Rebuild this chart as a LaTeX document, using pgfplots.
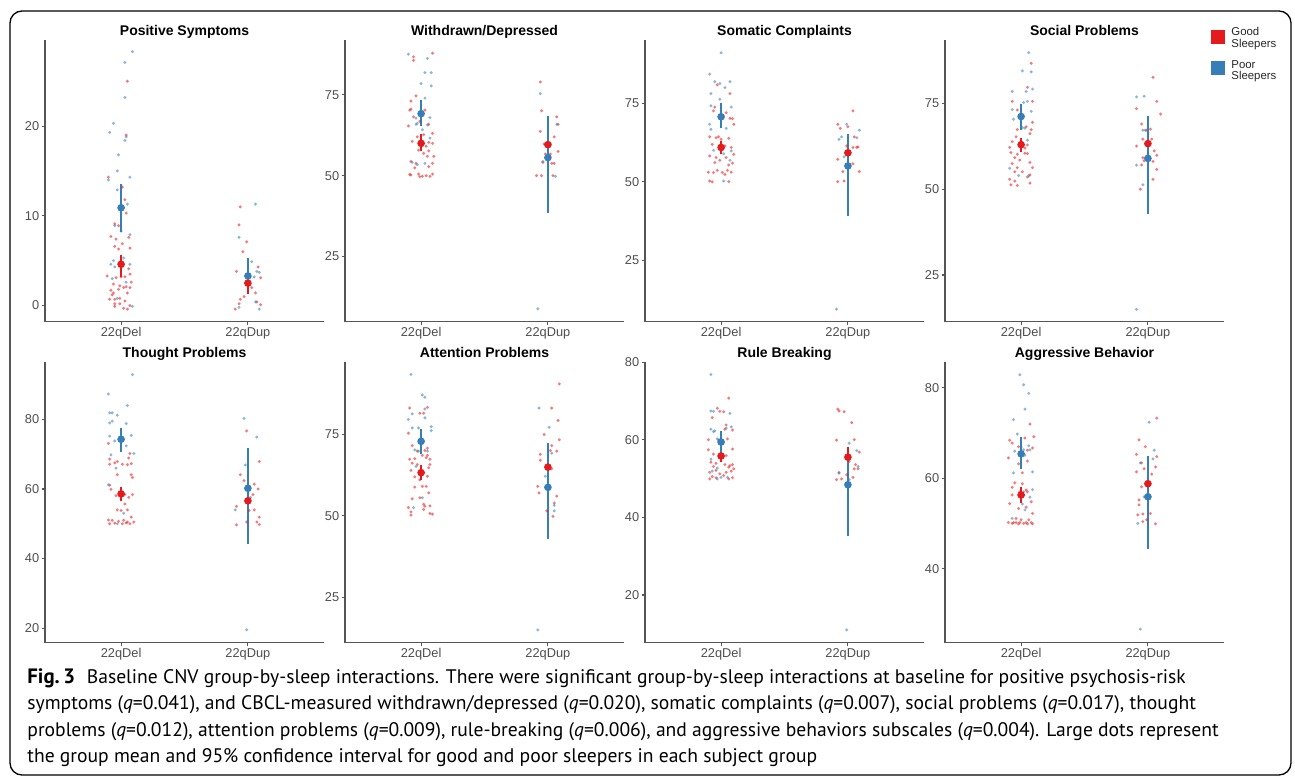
\documentclass[border=0pt]{standalone}
\usepackage{pgfplots}
\pgfplotsset{compat=1.18}
\usepackage{fontspec}
\setmainfont{Liberation Sans}
\newfontfamily\capfont{PT Sans}
\definecolor{gred}{HTML}{E41A1C}
\definecolor{pblue}{HTML}{377EB8}
\definecolor{axgray}{HTML}{555555}
\definecolor{ticktext}{HTML}{4D4D4D}
\pgfplotsset{
  panel/.style={
    scale only axis, width=139.5pt,
    anchor=south west,
    axis x line*=bottom, axis y line*=left,
    xmin=-0.6, xmax=1.6,
    xtick={0,1}, xticklabels={22qDel,22qDup},
    tick align=outside, major tick length=1.7pt,
    tick style={axgray, line width=0.55pt},
    axis line style={axgray, line width=0.7pt},
    /pgf/number format/assume math mode=true,
    ticklabel style={font=\fontsize{6.4}{7}\selectfont, text=ticktext},
    yticklabel style={inner sep=1pt},
    xticklabel style={inner sep=0.8pt},
    every axis title/.style={at={(0.5,1)}, anchor=base, yshift=2pt, inner sep=0pt, font=\bfseries\fontsize{7}{8}\selectfont},
    clip=false,
  },
  scat/.style={only marks, mark=*, mark size=0.6pt, color=#1, opacity=0.4},
  ci/.style={#1, line width=1pt},
  mn/.style={only marks, mark=*, mark size=1.7pt, color=#1},
}
\begin{document}
\begin{tikzpicture}
\useasboundingbox (0,0) rectangle (647.5pt,388pt);
\draw[black, line width=0.65pt, rounded corners=6pt] (5pt,0.5pt) rectangle (645.5pt,382.5pt);

% ---------------- Positive Symptoms
\begin{axis}[panel, at={(22.5pt,227.15pt)}, height=140.85pt, ymin=-1.8, ymax=29.6, ytick={0,10,20}, title={Positive Symptoms}]
\addplot[scat=gred] table[row sep=\\]{x y\\
-0.10 14.3\\ 0.01 13.2\\ 0.03 11.8\\ 0.04 10.3\\ -0.02 8.9\\ -0.05 9.1\\ -0.08 7.7\\ -0.04 7.4\\ 0.06 7.6\\ 0.01 6.9\\ -0.05 6.6\\ -0.02 6.3\\ 0.07 6.4\\ -0.11 3.3\\ -0.04 3.1\\ 0.00 3.2\\ 0.03 3.2\\ 0.07 3.5\\ 0.06 4.1\\ -0.06 2.4\\ -0.01 2.2\\ 0.04 2.1\\ 0.08 2.6\\ -0.08 1.7\\ -0.02 1.8\\ 0.02 2.0\\ 0.07 2.0\\ -0.06 1.4\\ 0.05 1.4\\ -0.09 0.7\\ -0.05 0.7\\ -0.01 0.8\\ 0.03 0.5\\ -0.05 0.2\\ -0.01 0.2\\ 0.07 0.0\\ 0.02 -0.3\\ 0.05 -0.4\\ -0.05 -0.1\\ -0.07 1.2\\ 0.05 25.0\\ 0.04 19.0\\
0.94 11.0\\ 0.93 9.0\\ 0.99 7.1\\ 0.96 6.0\\ 0.91 3.8\\ 1.08 4.3\\ 1.10 3.1\\ 1.03 2.0\\ 1.06 1.4\\ 0.97 1.0\\ 0.94 0.7\\ 0.93 0.2\\ 0.90 -0.4\\ 1.10 0.1\\ 1.07 0.4\\
};
\addplot[scat=pblue] table[row sep=\\]{x y\\
0.09 28.3\\ 0.03 27.1\\ 0.03 23.2\\ -0.09 19.3\\ -0.06 20.3\\ 0.04 18.8\\ 0.03 18.4\\ -0.02 16.8\\ -0.03 15.0\\ -0.10 14.0\\ 0.07 14.3\\ -0.03 12.9\\ 0.05 11.3\\ -0.05 8.9\\ 0.07 7.9\\ 0.00 8.3\\ 0.02 5.3\\ -0.08 4.6\\ -0.06 5.0\\ -0.05 4.3\\ 0.07 4.6\\ 0.04 2.6\\ -0.07 3.0\\ -0.03 0.8\\ 0.09 -0.1\\
1.06 11.3\\ 0.93 7.6\\ 1.03 4.9\\ 1.07 3.8\\ 1.09 3.7\\ 1.06 0.4\\ 0.93 -0.2\\ 1.09 -0.4\\ 1.05 3.2\\
};
\addplot[ci=gred] coordinates {(0,3.2) (0,5.6)};
\addplot[ci=gred] coordinates {(1,1.3) (1,3.7)};
\addplot[ci=pblue] coordinates {(0,8.2) (0,13.6)};
\addplot[ci=pblue] coordinates {(1,2.3) (1,5.3)};
\addplot[mn=gred] coordinates {(0,4.6) (1,2.5)};
\addplot[mn=pblue] coordinates {(0,10.9) (1,3.3)};
\end{axis}

% ---------------- Withdrawn/Depressed
\begin{axis}[panel, at={(172.5pt,227.15pt)}, height=140.85pt, ymin=4.8, ymax=92, ytick={25,50,75}, title={Withdrawn/Depressed}]
\addplot[scat=gred] table[row sep=\\]{x y\\
-0.06 86.8\\ -0.06 85.7\\ 0.09 87.9\\ -0.04 74.7\\ -0.08 73.1\\ -0.09 70.3\\ -0.08 70.6\\ -0.06 68.2\\ -0.10 65.4\\ 0.03 70.3\\ -0.01 66.8\\ 0.06 65.9\\ 0.09 63.1\\ 0.02 62.7\\ -0.03 62.0\\ -0.07 60.6\\ 0.06 60.3\\ 0.04 59.1\\ 0.09 60.0\\ 0.06 57.7\\ -0.02 57.9\\ 0.02 56.9\\ 0.05 56.0\\ 0.10 56.0\\ -0.08 54.4\\ -0.04 53.8\\ 0.09 53.8\\ 0.06 52.8\\ -0.05 52.4\\ -0.08 50.2\\ -0.02 50.5\\ 0.01 49.8\\ 0.04 50.0\\ 0.07 49.8\\ 0.09 50.5\\ -0.09 50.4\\ -0.01 49.7\\
0.94 79.0\\ 0.95 70.1\\ 0.94 63.7\\ 1.07 68.2\\ 1.08 65.9\\ 1.05 62.0\\ 0.97 59.8\\ 1.02 56.7\\ 1.08 57.5\\ 0.96 54.1\\ 1.03 53.8\\ 1.05 53.8\\ 0.91 50.0\\ 0.95 50.0\\ 1.04 50.0\\ 0.98 56.7\\
};
\addplot[scat=pblue] table[row sep=\\]{x y\\
-0.10 87.6\\ 0.05 86.3\\ 0.03 81.9\\ 0.08 81.9\\ 0.00 78.5\\ 0.08 77.8\\ 0.03 74.0\\ -0.04 67.8\\ -0.03 66.2\\ 0.07 68.0\\ 0.05 65.7\\ 0.01 64.2\\ 0.07 61.6\\ -0.03 53.4\\ -0.07 54.1\\ 0.03 53.8\\ -0.04 65.9\\
0.94 75.4\\ 1.07 65.9\\ 0.96 54.4\\ 1.06 49.8\\ 0.92 8.8\\ 1.02 59.8\\
};
\addplot[ci=gred] coordinates {(0,57.5) (0,62.9)};
\addplot[ci=gred] coordinates {(1,55.0) (1,64.0)};
\addplot[ci=pblue] coordinates {(0,65.4) (0,73.4)};
\addplot[ci=pblue] coordinates {(1,38.4) (1,68.5)};
\addplot[mn=gred] coordinates {(0,60.0) (1,59.6)};
\addplot[mn=pblue] coordinates {(0,69.2) (1,55.6)};
\end{axis}

% ---------------- Somatic Complaints
\begin{axis}[panel, at={(322.5pt,227.15pt)}, height=140.85pt, ymin=5.4, ymax=95.3, ytick={25,50,75}, title={Somatic Complaints}]
\addplot[scat=gred] table[row sep=\\]{x y\\
-0.03 81.0\\ 0.07 78.2\\ -0.05 73.9\\ -0.06 72.7\\ 0.04 72.1\\ 0.07 70.3\\ 0.09 70.2\\ 0.10 68.4\\ -0.09 64.4\\ -0.04 64.1\\ -0.02 64.4\\ 0.00 63.6\\ 0.06 63.9\\ -0.07 62.0\\ 0.03 61.5\\ 0.08 61.0\\ 0.10 58.8\\ -0.09 58.3\\ -0.04 57.8\\ -0.01 56.9\\ 0.04 57.8\\ 0.06 55.4\\ 0.09 56.0\\ -0.05 56.2\\ -0.10 53.1\\ -0.06 53.0\\ -0.03 53.7\\ 0.01 53.0\\ 0.05 53.7\\ 0.08 53.1\\ -0.09 50.3\\ -0.07 50.0\\ 0.06 50.1\\ 0.03 52.4\\
1.04 72.7\\ 0.92 68.4\\ 0.94 67.1\\ 1.00 67.6\\ 1.05 64.4\\ 1.04 61.0\\ 1.07 61.0\\ 1.08 61.2\\ 0.92 57.2\\ 1.04 55.8\\ 0.96 53.3\\ 1.09 53.3\\ 0.92 50.1\\ 0.97 50.3\\ 0.99 61.5\\
};
\addplot[scat=pblue] table[row sep=\\]{x y\\
0.00 91.2\\ -0.09 84.4\\ -0.05 82.0\\ -0.01 81.4\\ 0.03 80.1\\ 0.07 82.0\\ -0.08 78.2\\ -0.01 76.4\\ -0.08 74.3\\ 0.08 73.9\\ -0.09 68.4\\ -0.08 66.8\\ 0.04 67.1\\ -0.06 60.1\\ 0.08 59.9\\ 0.02 59.0\\ 0.07 56.9\\ 0.02 50.3\\
0.99 68.4\\ 0.93 63.6\\ 0.95 64.4\\ 1.07 64.1\\ 1.09 66.5\\ 0.91 9.4\\ 0.97 58.0\\
};
\addplot[ci=gred] coordinates {(0,58.8) (0,63.1)};
\addplot[ci=gred] coordinates {(1,55.5) (1,63.0)};
\addplot[ci=pblue] coordinates {(0,67.1) (0,75.1)};
\addplot[ci=pblue] coordinates {(1,39.1) (1,65.4)};
\addplot[mn=gred] coordinates {(0,61.0) (1,59.3)};
\addplot[mn=pblue] coordinates {(0,70.8) (1,55.1)};
\end{axis}

% ---------------- Social Problems
\begin{axis}[panel, at={(472.5pt,227.15pt)}, height=140.85pt, ymin=11.4, ymax=93.5, ytick={25,50,75}, title={Social Problems}]
\addplot[scat=gred] table[row sep=\\]{x y\\
0.08 86.7\\ 0.05 79.7\\ -0.07 75.6\\ 0.09 75.6\\ -0.03 73.1\\ 0.09 69.5\\ -0.03 67.4\\ 0.04 68.2\\ 0.08 67.4\\ 0.07 66.2\\ -0.04 65.3\\ -0.07 63.9\\ 0.05 62.9\\ -0.09 62.2\\ 0.03 62.0\\ -0.08 60.7\\ -0.03 60.2\\ 0.03 60.5\\ 0.05 60.4\\ -0.05 59.2\\ -0.01 58.5\\ -0.07 57.5\\ 0.07 57.8\\ -0.03 56.3\\ 0.09 56.3\\ -0.05 55.1\\ 0.01 55.1\\ -0.09 52.9\\ -0.05 52.4\\ 0.05 53.6\\ 0.07 54.2\\ -0.08 51.3\\ -0.03 51.1\\ 0.07 51.8\\
1.04 82.6\\ 1.07 75.6\\ 0.91 73.5\\ 1.10 71.9\\ 0.95 69.0\\ 1.02 67.5\\ 0.98 67.2\\ 0.96 64.6\\ 1.03 64.6\\ 0.91 62.6\\ 1.05 61.2\\ 0.97 58.3\\ 1.04 58.1\\ 1.07 55.8\\ 0.95 57.1\\ 1.04 52.9\\ 0.94 50.0\\ 0.96 59.2\\ 1.07 59.9\\
};
\addplot[scat=pblue] table[row sep=\\]{x y\\
0.06 89.8\\ 0.01 84.5\\ 0.08 84.2\\ -0.07 78.5\\ 0.04 78.5\\ 0.09 79.2\\ 0.02 75.3\\ 0.05 75.6\\ -0.07 73.2\\ 0.08 72.7\\ -0.06 70.4\\ 0.01 68.0\\ 0.05 64.3\\ -0.09 56.1\\ -0.02 54.0\\ 0.06 53.9\\ 0.03 67.8\\
0.91 76.9\\ 0.97 77.1\\ 0.96 67.2\\ 0.99 67.2\\ 0.91 57.0\\ 0.96 51.3\\ 0.91 15.0\\
};
\addplot[ci=gred] coordinates {(0,60.8) (0,64.9)};
\addplot[ci=gred] coordinates {(1,59.0) (1,67.5)};
\addplot[ci=pblue] coordinates {(0,67.2) (0,74.8)};
\addplot[ci=pblue] coordinates {(1,42.8) (1,71.4)};
\addplot[mn=gred] coordinates {(0,63.0) (1,63.3)};
\addplot[mn=pblue] coordinates {(0,71.2) (1,59.0)};
\end{axis}

% ---------------- Thought Problems
\begin{axis}[panel, at={(22.5pt,66.65pt)}, height=140.5pt, ymin=15.8, ymax=96.6, ytick={20,40,60,80}, title={Thought Problems}]
\addplot[scat=gred] table[row sep=\\]{x y\\
-0.10 73.1\\ 0.07 70.2\\ -0.09 68.6\\ -0.05 67.5\\ -0.03 67.9\\ -0.09 67.1\\ 0.01 67.1\\ 0.05 67.0\\ 0.08 67.3\\ 0.06 68.9\\ -0.03 64.1\\ 0.08 64.1\\ 0.09 63.3\\ -0.09 61.1\\ -0.08 59.9\\ -0.04 58.1\\ 0.03 58.4\\ 0.09 58.4\\ 0.06 57.6\\ 0.03 55.7\\ -0.03 54.0\\ 0.00 53.8\\ 0.05 54.0\\ 0.08 51.9\\ -0.10 51.1\\ -0.07 51.0\\ -0.02 50.7\\ 0.02 51.0\\ 0.05 50.5\\ -0.09 50.0\\ -0.05 50.2\\ 0.01 50.0\\ 0.04 50.2\\ 0.07 50.0\\ 0.10 50.5\\
0.99 76.7\\ 1.09 67.9\\ 0.94 64.1\\ 0.97 62.4\\ 1.05 61.4\\ 1.08 60.0\\ 1.04 58.4\\ 0.91 55.0\\ 1.01 53.8\\ 1.05 54.0\\ 0.99 50.5\\ 0.91 49.7\\ 1.09 51.9\\ 1.07 50.5\\ 1.09 49.8\\
};
\addplot[scat=pblue] table[row sep=\\]{x y\\
0.09 92.9\\ -0.10 87.3\\ 0.05 84.0\\ -0.09 81.9\\ -0.07 81.9\\ -0.03 81.2\\ -0.07 79.5\\ -0.09 79.0\\ 0.04 78.8\\ 0.08 75.4\\ -0.09 75.2\\ -0.05 73.8\\ 0.04 72.4\\ 0.10 70.2\\ -0.08 69.8\\ -0.04 66.0\\ -0.10 61.2\\ -0.03 50.0\\ 0.02 53.0\\
0.97 80.3\\ 1.07 74.9\\ 0.98 66.9\\ 0.90 54.0\\ 0.99 19.5\\ 1.02 57.6\\
};
\addplot[ci=gred] coordinates {(0,56.5) (0,60.5)};
\addplot[ci=gred] coordinates {(1,53.0) (1,60.0)};
\addplot[ci=pblue] coordinates {(0,70.5) (0,77.4)};
\addplot[ci=pblue] coordinates {(1,44.1) (1,71.9)};
\addplot[mn=gred] coordinates {(0,58.6) (1,56.6)};
\addplot[mn=pblue] coordinates {(0,74.3) (1,60.2)};
\end{axis}

% ---------------- Attention Problems
\begin{axis}[panel, at={(172.5pt,66.65pt)}, height=140.5pt, ymin=11.1, ymax=97.2, ytick={25,50,75}, title={Attention Problems}]
\addplot[scat=gred] table[row sep=\\]{x y\\
-0.09 83.0\\ 0.05 83.2\\ -0.01 81.4\\ 0.02 81.4\\ -0.10 75.3\\ -0.07 71.5\\ 0.05 70.7\\ 0.03 70.0\\ -0.03 69.8\\ 0.01 68.5\\ 0.05 68.5\\ 0.04 67.8\\ -0.09 67.3\\ -0.05 67.5\\ 0.07 67.3\\ -0.07 66.1\\ -0.03 65.7\\ 0.07 65.7\\ 0.06 64.7\\ -0.08 63.9\\ -0.05 61.9\\ 0.05 62.1\\ -0.01 61.0\\ 0.04 59.0\\ -0.05 58.8\\ 0.01 59.0\\ 0.06 57.0\\ -0.07 55.2\\ -0.01 55.5\\ 0.02 53.5\\ 0.07 53.0\\ 0.03 52.9\\ -0.10 52.5\\ -0.08 51.2\\ 0.02 51.9\\ 0.07 50.7\\ 0.09 50.5\\ -0.08 50.2\\
1.09 90.4\\ 1.03 83.0\\ 1.08 79.2\\ 0.97 74.9\\ 1.09 73.3\\ 1.03 71.5\\ 0.94 68.8\\ 1.07 69.8\\ 0.94 67.0\\ 1.02 70.0\\ 1.03 64.4\\ 0.92 59.0\\ 1.01 58.3\\ 0.93 57.0\\ 1.07 56.0\\ 1.05 53.9\\ 0.99 51.5\\ 1.04 49.8\\
};
\addplot[scat=pblue] table[row sep=\\]{x y\\
-0.08 93.3\\ 0.01 87.0\\ 0.03 86.3\\ -0.07 81.2\\ 0.03 82.7\\ 0.03 80.0\\ -0.10 79.5\\ -0.07 76.9\\ -0.02 76.9\\ 0.08 77.3\\ 0.08 76.1\\ -0.05 70.2\\ -0.02 69.8\\ -0.04 65.1\\ 0.01 55.5\\ -0.06 52.5\\ 0.05 69.8\\
0.93 83.0\\ 1.01 77.1\\ 1.03 69.2\\ 0.98 62.1\\ 1.05 53.2\\ 1.05 51.5\\ 0.92 15.0\\
};
\addplot[ci=gred] coordinates {(0,60.8) (0,65.6)};
\addplot[ci=gred] coordinates {(1,60.0) (1,70.0)};
\addplot[ci=pblue] coordinates {(0,68.8) (0,76.6)};
\addplot[ci=pblue] coordinates {(1,42.8) (1,72.3)};
\addplot[mn=gred] coordinates {(0,63.2) (1,64.9)};
\addplot[mn=pblue] coordinates {(0,72.8) (1,58.7)};
\end{axis}

% ---------------- Rule Breaking
\begin{axis}[panel, at={(322.5pt,66.65pt)}, height=140.5pt, ymin=7.7, ymax=80.1, ytick={20,40,60,80}, title={Rule Breaking}]
\addplot[scat=gred] table[row sep=\\]{x y\\
0.06 70.7\\ -0.03 68.1\\ -0.01 67.3\\ 0.02 67.2\\ -0.07 65.7\\ 0.04 63.8\\ 0.03 62.7\\ 0.09 62.5\\ -0.10 60.0\\ -0.02 59.9\\ 0.05 60.2\\ 0.09 57.6\\ -0.10 57.4\\ -0.06 56.3\\ 0.04 55.9\\ -0.08 54.2\\ -0.04 53.9\\ -0.06 53.1\\ 0.03 53.6\\ 0.07 53.3\\ 0.09 53.6\\ -0.09 51.6\\ -0.04 52.1\\ -0.01 51.2\\ 0.02 50.8\\ 0.04 51.6\\ 0.08 51.9\\ -0.07 50.5\\ -0.04 50.2\\ -0.09 49.9\\ 0.06 49.9\\ 0.09 50.2\\ 0.10 52.5\\ 0.06 52.9\\
0.92 67.9\\ 0.93 67.4\\ 0.97 67.2\\ 1.03 64.4\\ 0.91 59.9\\ 1.05 60.0\\ 1.09 56.8\\ 1.01 54.4\\ 1.06 53.6\\ 1.08 52.5\\ 0.93 51.4\\ 1.04 50.3\\ 0.91 49.7\\ 0.95 49.9\\ 0.99 51.0\\ 1.05 52.5\\
};
\addplot[scat=pblue] table[row sep=\\]{x y\\
-0.08 76.8\\ -0.08 67.4\\ -0.06 67.3\\ 0.07 66.8\\ -0.08 62.7\\ -0.06 62.1\\ -0.05 62.3\\ 0.04 63.0\\ 0.08 63.3\\ -0.03 60.2\\ -0.01 59.9\\ -0.08 55.0\\ -0.03 52.7\\ -0.07 51.9\\ -0.03 49.9\\ 0.00 50.3\\ 0.05 50.3\\
1.01 59.1\\ 1.07 57.2\\ 0.93 51.6\\ 1.08 53.1\\ 1.01 49.7\\ 0.99 11.0\\
};
\addplot[ci=gred] coordinates {(0,54.2) (0,57.4)};
\addplot[ci=gred] coordinates {(1,53.3) (1,58.2)};
\addplot[ci=pblue] coordinates {(0,56.3) (0,62.3)};
\addplot[ci=pblue] coordinates {(1,35.1) (1,55.3)};
\addplot[mn=gred] coordinates {(0,55.8) (1,55.5)};
\addplot[mn=pblue] coordinates {(0,59.4) (1,48.4)};
\end{axis}

% ---------------- Aggressive Behavior
\begin{axis}[panel, at={(472.5pt,66.65pt)}, height=140.5pt, ymin=23.6, ymax=85.8, ytick={40,60,80}, title={Aggressive Behavior}]
\addplot[scat=gred] table[row sep=\\]{x y\\
0.07 72.0\\ 0.10 69.2\\ 0.03 68.9\\ -0.09 68.4\\ -0.07 67.8\\ -0.02 67.0\\ 0.05 66.2\\ 0.09 66.7\\ -0.10 64.5\\ 0.05 63.8\\ -0.02 63.2\\ 0.01 61.2\\ -0.05 59.0\\ 0.01 58.8\\ -0.07 58.0\\ 0.04 57.4\\ -0.01 57.0\\ 0.05 57.0\\ -0.07 56.3\\ 0.02 56.3\\ 0.08 54.8\\ -0.09 54.4\\ -0.02 53.3\\ 0.04 53.6\\ 0.09 52.2\\ -0.04 51.1\\ 0.00 50.8\\ 0.06 50.8\\ -0.10 50.2\\ -0.07 50.0\\ -0.06 50.2\\ -0.04 50.2\\ -0.02 49.9\\ -0.01 50.2\\ 0.02 50.0\\ 0.04 50.2\\ 0.08 50.2\\ 0.09 49.9\\ 0.05 49.9\\
1.07 73.3\\ 0.93 68.5\\ 0.98 67.0\\ 0.91 65.3\\ 1.07 64.8\\ 0.95 63.4\\ 1.06 62.5\\ 0.97 62.1\\ 0.91 61.4\\ 1.03 60.9\\ 0.95 58.1\\ 1.01 56.0\\ 0.93 55.2\\ 0.93 54.1\\ 0.92 51.9\\ 0.96 52.1\\ 1.02 52.2\\ 0.99 50.8\\ 0.96 50.4\\ 1.06 49.9\\
};
\addplot[scat=pblue] table[row sep=\\]{x y\\
-0.01 82.9\\ 0.02 80.7\\ 0.06 78.8\\ 0.03 75.3\\ -0.06 73.0\\ -0.03 69.8\\ 0.00 66.9\\ 0.02 66.3\\ 0.06 67.2\\ 0.07 66.3\\ -0.05 66.0\\ 0.03 65.1\\ -0.06 61.2\\ 0.09 61.4\\ 0.09 57.5\\ 0.02 57.0\\ 0.07 55.8\\ 0.01 54.3\\ 0.03 53.0\\ -0.07 51.1\\
1.01 72.4\\ 1.05 66.2\\ 1.04 64.3\\ 0.94 63.4\\ 0.97 55.9\\ 0.92 50.0\\ 0.94 26.6\\
};
\addplot[ci=gred] coordinates {(0,54.6) (0,58.0)};
\addplot[ci=gred] coordinates {(1,55.0) (1,62.5)};
\addplot[ci=pblue] coordinates {(0,62.1) (0,69.2)};
\addplot[ci=pblue] coordinates {(1,44.4) (1,65.0)};
\addplot[mn=gred] coordinates {(0,56.3) (1,58.8)};
\addplot[mn=pblue] coordinates {(0,65.4) (1,55.9)};
\end{axis}

% ---------------- Legend
\fill[gred] (605.5pt,366pt) rectangle (612.5pt,373pt);
\fill[pblue] (605.5pt,350.5pt) rectangle (612.5pt,357.5pt);
\begin{scope}[every node/.style={anchor=base west, inner sep=0pt, font=\fontsize{5.7}{6}\selectfont, text=black!85}]
\node at (615.5pt,370.15pt) {Good};
\node at (615.5pt,364.35pt) {Sleepers};
\node at (615.5pt,353.85pt) {Poor};
\node at (615.5pt,348pt) {Sleepers};
\end{scope}

% ---------------- Caption
\begin{scope}[every node/.style={anchor=base west, inner sep=0pt, font=\capfont\fontsize{9.8}{12}\selectfont}]
\node at (13.5pt,46.25pt) {\textbf{\fontsize{10.4}{12}\selectfont Fig.\,3}\hspace{0.6em}Baseline CNV group-by-sleep interactions. There were significant group-by-sleep interactions at baseline for positive psychosis-risk};
\node at (13.5pt,33pt) {symptoms (\textit{q}=0.041), and CBCL-measured withdrawn/depressed (\textit{q}=0.020), somatic complaints (\textit{q}=0.007), social problems (\textit{q}=0.017), thought};
\node at (13.5pt,19.75pt) {problems (\textit{q}=0.012), attention problems (\textit{q}=0.009), rule-breaking (\textit{q}=0.006), and aggressive behaviors subscales (\textit{q}=0.004). Large dots represent};
\node at (13.5pt,6.5pt) {the group mean and 95\% confidence interval for good and poor sleepers in each subject group};
\end{scope}
\end{tikzpicture}
\end{document}
